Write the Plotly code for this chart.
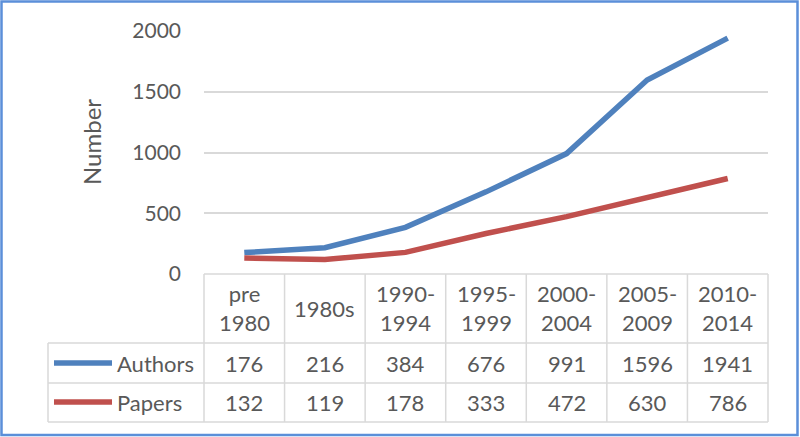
import plotly.graph_objects as go

categories = ["pre<br>1980", "1980s", "1990-<br>1994", "1995-<br>1999", "2000-<br>2004", "2005-<br>2009", "2010-<br>2014"]
series_names = ["Authors", "Papers"]
authors = [176, 216, 384, 676, 991, 1596, 1941]
papers = [132, 119, 178, 333, 472, 630, 786]
y_ticks = [0, 500, 1000, 1500, 2000]
colors = ["#4F81BD", "#C0504D"]

W, H = 800, 437
L, R, T, B = 204, 768, 31, 274  # plot area in pixels
FONT = "Lato"
GREY = "#595959"
GRID = "#d9d9d9"


def px(x):
    return (x - L) / (R - L)


def py(y):
    return (B - y) / (B - T)


n = len(categories)
xs = list(range(n))

fig = go.Figure()
for name, vals, col in zip(series_names, [authors, papers], colors):
    fig.add_trace(go.Scatter(x=xs, y=vals, mode="lines", name=name,
                             line=dict(color=col, width=5.5), cliponaxis=False,
                             showlegend=False))

shapes = []
annotations = []

row_tops = [274, 343, 383, 422]


def hline(x0, x1, y):
    shapes.append(dict(type="line", xref="paper", yref="paper", x0=px(x0), x1=px(x1),
                       y0=py(y), y1=py(y), line=dict(color=GRID, width=1.5), layer="below"))


def vline(x, y0, y1):
    shapes.append(dict(type="line", xref="paper", yref="paper", x0=x, x1=x,
                       y0=py(y0), y1=py(y1), line=dict(color=GRID, width=1.5), layer="below"))


hline(L, R, 274)
for yv in row_tops[1:]:
    hline(48, R, yv)
vline(px(48), 343, 422)
for i in range(n + 1):
    vline(i / n, 274, 422)

for i, c in enumerate(categories):
    annotations.append(dict(x=i, xref="x", y=py(308), yref="paper", text=c, showarrow=False,
                            font=dict(family=FONT, size=22, color=GREY), xanchor="center",
                            yanchor="middle", align="center"))

row_centers = [363, 402]
for name, vals, col, yc in zip(series_names, [authors, papers], colors, row_centers):
    shapes.append(dict(type="line", xref="paper", yref="paper", x0=px(54), x1=px(112),
                       y0=py(yc), y1=py(yc), line=dict(color=col, width=5.5)))
    annotations.append(dict(x=px(115), xref="paper", y=py(yc), yref="paper", text=name,
                            showarrow=False, xanchor="left", yanchor="middle",
                            font=dict(family=FONT, size=22, color=GREY)))
    for i, v in enumerate(vals):
        annotations.append(dict(x=i, xref="x", y=py(yc), yref="paper", text=str(v),
                                showarrow=False, xanchor="center", yanchor="middle",
                                font=dict(family=FONT, size=22, color=GREY)))

annotations.append(dict(x=px(91), xref="paper", y=py(142), yref="paper", text="Number",
                        textangle=-90, showarrow=False, xanchor="center", yanchor="middle",
                        font=dict(family=FONT, size=24, color=GREY)))

shapes.append(dict(type="rect", xref="paper", yref="paper", x0=px(1.5), x1=px(797.5),
                   y0=py(435), y1=py(1.5), line=dict(color="#5B8FD9", width=2.5)))

fig.update_layout(
    width=W, height=H,
    margin=dict(l=L, r=W - R, t=T, b=H - B, autoexpand=False),
    paper_bgcolor="white", plot_bgcolor="white",
    xaxis=dict(range=[-0.5, n - 0.5], showticklabels=False, showgrid=False, zeroline=False,
               showline=False, ticks=""),
    yaxis=dict(range=[0, 2000], tickvals=y_ticks, showgrid=True, gridcolor=GRID, gridwidth=1.5,
               zeroline=False, showline=False, ticks="", ticklabelstandoff=22,
               tickfont=dict(family=FONT, size=21, color=GREY), automargin=False),
    shapes=shapes, annotations=annotations,
)

fig.write_html("out.html", config={"displayModeBar": False},
               post_script="document.body.style.margin='0px';")
